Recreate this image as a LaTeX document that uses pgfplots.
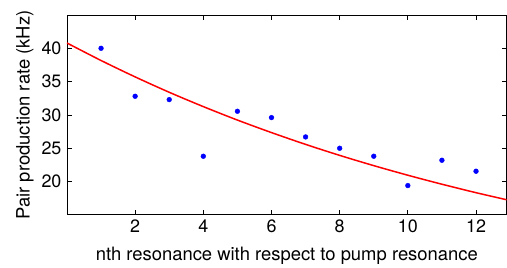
\documentclass[border=0pt]{standalone}
\usepackage{pgfplots}
\pgfplotsset{compat=1.18}
\usepackage{fontspec}
\setmainfont{TeX Gyre Heros}
\begin{document}
\begin{tikzpicture}
\begin{axis}[
  scale only axis, width=440bp, height=200bp,
  xmin=0, xmax=12.9, ymin=15, ymax=45,
  xtick={2,4,6,8,10,12}, ytick={20,25,30,35,40},
  tick align=inside, major tick length=5bp,
  xtick pos=both, ytick pos=both,
  xticklabel pos=lower, yticklabel pos=left,
  minor tick num=0,
  /pgf/number format/assume math mode=true,
  ticklabel style={font=\fontsize{18}{21}\selectfont},
  label style={font=\fontsize{18.5}{21}\selectfont},
  xlabel={nth resonance with respect to pump resonance},
  ylabel={Pair production rate (kHz)},
  xlabel style={yshift=-8bp},
  ylabel style={yshift=1bp},
  axis line style={line width=0.8bp},
  every tick/.style={black, line width=0.8bp},
  xticklabel style={yshift=-1bp},
  yticklabel style={xshift=-2bp},
  clip=true,
]
\addplot[only marks, mark=*, mark size=2.4bp, color=blue] coordinates {
  (1,40.0) (2,32.8) (3,32.3) (4,23.8) (5,30.55) (6,29.6)
  (7,26.7) (8,25.0) (9,23.8) (10,19.4) (11,23.2) (12,21.55)
};
\addplot[red, line width=1.5bp, smooth, no marks] coordinates {
  (0,40.8) (1,38.17) (2,35.71) (3,33.40) (4,31.25) (5,29.23) (6,27.35)
  (7,25.58) (8,23.93) (9,22.39) (10,20.95) (11,19.60) (12,18.33) (12.9,17.27)
};
\end{axis}
\pgfresetboundingbox
\path ([shift={(-67bp,-53bp)}]current axis.south west) rectangle ([shift={(0.3bp,15bp)}]current axis.north east);
\end{tikzpicture}
\end{document}
